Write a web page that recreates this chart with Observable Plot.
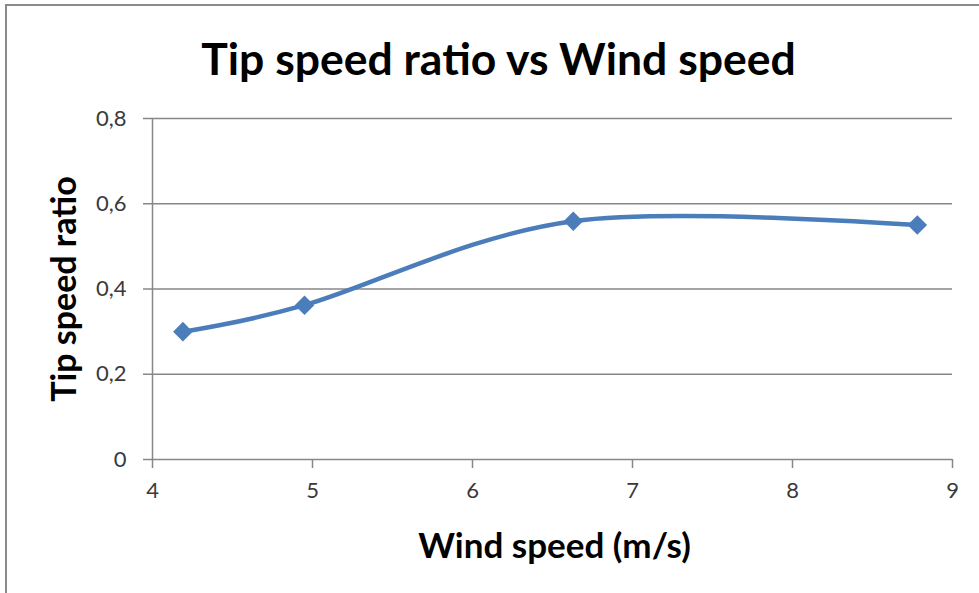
<!DOCTYPE html>
<html>
<head>
<meta charset="utf-8">
<script src="https://cdn.jsdelivr.net/npm/d3@7"></script>
<script src="https://cdn.jsdelivr.net/npm/@observablehq/plot@0.6"></script>
<style>
  html, body { margin: 0; padding: 0; background: #fff; overflow: hidden; }
  #chart { position: relative; width: 979px; height: 593px; overflow: hidden; }
  #frame {
    position: absolute; left: 5px; top: 4px; width: 2000px; height: 2000px;
    border-left: 2px solid #8a8a8a; border-top: 2px solid #8a8a8a;
    pointer-events: none;
  }
  #chart svg { position: absolute; left: 0; top: 0; }
</style>
</head>
<body>
<div id="chart"><div id="frame"></div></div>
<script>
// Measured wind speeds (m/s) and the resulting tip speed ratio
const windSpeed = [4.19, 4.95, 6.63, 8.78];
const tipSpeedRatio = [0.300, 0.362, 0.559, 0.550];

// Axis ticks and their labels (decimal comma)
const xTicks = [4, 5, 6, 7, 8, 9];
const yTicks = [0, 0.2, 0.4, 0.6, 0.8];
const yTickLabels = ["0", "0,2", "0,4", "0,6", "0,8"];

const chartTitle = "Tip speed ratio vs Wind speed";
const xTitle = "Wind speed (m/s)";
const yTitle = "Tip speed ratio";

const points = windSpeed.map((w, i) => ({wind: w, tsr: tipSpeedRatio[i]}));

const gray = "#878787";
const blue = "#4a7dba";

const plot = Plot.plot({
  width: 979,
  height: 593,
  marginLeft: 152,
  marginRight: 27,
  marginTop: 118,
  marginBottom: 134,
  style: {fontFamily: "Lato, sans-serif", background: "transparent", overflow: "visible"},
  x: {domain: [4, 9]},
  y: {domain: [0, 0.8]},
  marks: [
    Plot.gridY(yTicks.slice(1), {stroke: gray, strokeOpacity: 1, strokeWidth: 1.5}),
    Plot.ruleY([0], {stroke: gray, strokeWidth: 1.5}),
    Plot.ruleX([4], {y1: 0, y2: 0.8, stroke: gray, strokeWidth: 1.5}),
    Plot.axisY(yTicks, {
      tickSize: 9, tickPadding: 17, stroke: gray, strokeWidth: 1.5,
      fill: "#3a3a3a", fontSize: 22, label: null,
      tickFormat: d => yTickLabels[yTicks.indexOf(d)]
    }),
    Plot.axisX(xTicks, {
      tickSize: 9, tickPadding: 14, stroke: gray, strokeWidth: 1.5,
      fill: "#3a3a3a", fontSize: 22, label: null, tickFormat: d => String(d)
    }),
    Plot.line(points, {x: "wind", y: "tsr", curve: "cardinal", stroke: blue, strokeWidth: 4.5}),
    Plot.dot(points, {x: "wind", y: "tsr", symbol: "diamond2", r: 8.8, fill: blue, stroke: "none"}),
    Plot.text([chartTitle], {
      frameAnchor: "top", textAnchor: "middle", lineAnchor: "middle",
      dx: -54, dy: -58, fontSize: 44.5, fontWeight: "bold", fill: "#000"
    }),
    Plot.text([yTitle], {
      frameAnchor: "left", textAnchor: "middle", lineAnchor: "middle", rotate: -90,
      dx: -87, fontSize: 34, fontWeight: "bold", fill: "#000"
    }),
    Plot.text([xTitle], {
      frameAnchor: "bottom", textAnchor: "middle", lineAnchor: "middle",
      dx: 2, dy: 87, fontSize: 35, fontWeight: "bold", fill: "#000"
    })
  ]
});

document.getElementById("chart").appendChild(plot);
</script>
</body>
</html>
